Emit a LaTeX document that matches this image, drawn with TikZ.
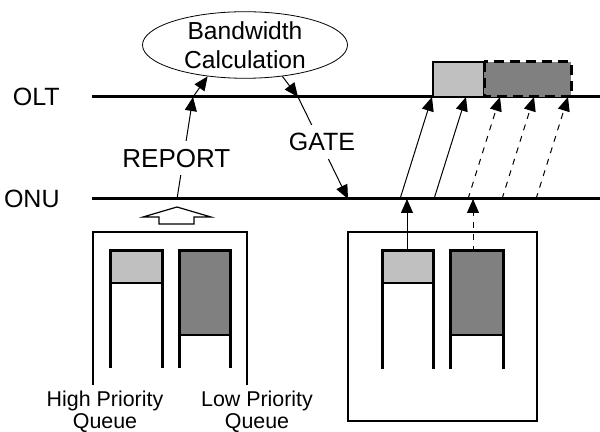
\documentclass[tikz,border=0pt]{standalone}
\usepackage{fontspec}
\setmainfont{Liberation Sans}
\usetikzlibrary{arrows.meta,shapes.geometric}

\definecolor{lightq}{HTML}{C0C0C0}
\definecolor{darkq}{HTML}{808080}

\tikzset{
	tip/.style={-{Triangle[length=7pt,width=6pt]}, line width=0.5pt},
	wall/.style={line width=1.5pt},
	frame/.style={line width=1pt},
	msg/.style={fill=white,inner sep=2pt,font=\fontsize{12.5}{14}\selectfont},
	qlabel/.style={align=center,font=\fontsize{10.7}{11}\selectfont},
}

\begin{document}
\begin{tikzpicture}[x=0.5pt,y=-0.5pt]
	\useasboundingbox (0,0) rectangle (600,432);
	
	\draw [wall] (92,97) -- (600,97);
	\draw [wall] (92,199) -- (600,199);
	
	\node [msg, anchor=east, fill=none] (olt) at (64,97) {OLT};
	\node [msg, anchor=east, fill=none] (onu) at (64,199) {ONU};
	
	\node [draw, ellipse, minimum width=102.5pt, minimum height=33pt, inner sep=0pt, align=center, font=\fontsize{12.3}{14.5}\selectfont] (calc) at (245,45) {Bandwidth\\Calculation};
	
	\coordinate (rep0) at (177,199);
	\coordinate (rep1) at (193,97);
	\draw [tip] (rep0) -- node [msg, pos=0.4, xshift=-3.5pt, inner sep=4pt, font=\fontsize{13}{14}\selectfont] (report) {REPORT} (rep1);
	\draw [tip] (rep1) -- (calc.220);
	
	\coordinate (gate0) at (298,97);
	\coordinate (gate1) at (348,199);
	\draw [tip] (calc.320) -- (gate0);
	\draw [tip] (gate0) -- node [msg, pos=0.44, xshift=1pt, inner sep=4pt] (gate) {GATE} (gate1);
	
	\filldraw [fill=lightq, frame] (433,62) rectangle (484,97);
	\filldraw [fill=darkq, line width=1.5pt, dash pattern=on 5pt off 3pt] (484,62) rectangle (571,97);
	
	\coordinate (s1) at (400,199);
	\coordinate (s2) at (434,199);
	\coordinate (s3) at (468,199);
	\coordinate (s4) at (502,199);
	\coordinate (s5) at (536,199);
	\coordinate (e1) at (432,97);
	\coordinate (e2) at (466,97);
	\coordinate (e3) at (500,97);
	\coordinate (e4) at (534,97);
	\coordinate (e5) at (568,97);
	\draw [tip] (s1) -- (e1);
	\draw [tip] (s2) -- (e2);
	\draw [tip, dashed] (s3) -- (e3);
	\draw [tip, dashed] (s4) -- (e4);
	\draw [tip, dashed] (s5) -- (e5);
	
	% left ONU
	\draw [frame] (93,385) -- (93,232) -- (247,232) -- (247,385);
	\filldraw [fill=white, line width=0.6pt] (159,224) -- (159,217) -- (143,217) -- (177,207) -- (211,217) -- (194,217) -- (194,224) -- cycle;
	
	\filldraw [fill=lightq, frame] (110,251) rectangle (162,283);
	\draw [wall] (110,368) -- (110,251) -- (162,251) -- (162,368);
	\filldraw [fill=darkq, frame] (179,251) rectangle (230,335);
	\draw [wall] (179,368) -- (179,251) -- (230,251) -- (230,368);
	
	\node [qlabel] (hpq) at (105,412) {High Priority\\Queue};
	\node [qlabel] (lpq) at (257,412) {Low Priority\\Queue};
	
	% right ONU
	\draw [frame] (348,232) rectangle (537,421);
	
	\filldraw [fill=lightq, frame] (382,251) rectangle (433,283);
	\draw [wall] (382,369) -- (382,251) -- (433,251) -- (433,369);
	\filldraw [fill=darkq, frame] (450,251) rectangle (503,335);
	\draw [wall] (450,369) -- (450,251) -- (503,251) -- (503,369);
	
	\coordinate (hp0) at (407,252);
	\coordinate (hp1) at (407,199);
	\coordinate (lp0) at (473,252);
	\coordinate (lp1) at (473,199);
	\draw [tip] (hp0) -- (hp1);
	\draw [tip, dashed] (lp0) -- (lp1);
\end{tikzpicture}
\end{document}
